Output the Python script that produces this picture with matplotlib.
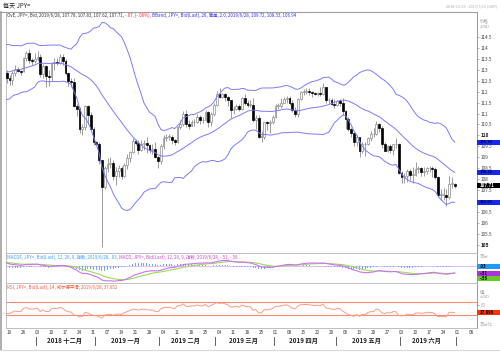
import numpy as np
import pandas as pd
import matplotlib
matplotlib.use("Agg")
import matplotlib.pyplot as plt
import matplotlib.transforms as mtransforms
from matplotlib.patches import Rectangle
from matplotlib.lines import Line2D

plt.rcParams['font.family'] = ['Noto Sans CJK SC', 'DejaVu Sans']

W, H = 500, 352

# closes before the visible window, only needed to warm up the indicators
pre_closes = [112.20, 111.80, 112.25, 112.65, 112.20, 112.55, 112.80, 112.45, 112.40, 112.40,
              111.90, 112.40, 113.05, 112.95, 112.70, 113.20, 113.20, 113.45, 113.50, 113.95,
              113.80, 113.85, 113.75, 113.60, 113.60]

# daily OHLC, 2018-11-16 .. 2019-06-28 (weekdays)
opens = [112.85, 112.60, 112.55, 112.85, 113.05, 112.95, 112.95, 113.55, 113.75, 113.45,
         113.40, 113.50, 113.60, 112.80, 113.15, 112.70, 112.65, 113.30, 113.35, 113.30,
         113.60, 113.40, 112.85, 112.50, 112.45, 111.35, 111.20, 110.30, 110.40, 111.35,
         110.95, 110.30, 109.70, 109.60, 108.90, 107.65, 108.50, 108.70, 108.75, 108.15,
         108.40, 108.50, 108.15, 108.65, 108.95, 109.25, 109.75, 109.65, 109.35, 109.60,
         109.65, 109.55, 109.35, 109.40, 109.00, 108.85, 109.50, 109.90, 109.95, 109.95,
         109.80, 109.70, 110.40, 110.50, 111.00, 110.50, 110.45, 110.60, 110.60, 110.85,
         110.70, 110.70, 111.05, 110.60, 111.00, 111.40, 111.90, 111.75, 111.90, 111.75,
         111.60, 111.15, 111.20, 111.35, 111.20, 111.70, 111.50, 111.40, 111.40, 110.70,
         110.80, 109.95, 109.95, 110.60, 110.55, 110.60, 110.85, 111.35, 111.35, 111.50,
         111.65, 111.70, 111.50, 111.15, 111.00, 111.65, 112.00, 112.00, 112.05, 112.00,
         111.95, 111.90, 111.95, 111.90, 112.20, 111.60, 111.60, 111.45, 111.40, 111.55,
         111.50, 111.10, 110.75, 110.30, 110.10, 109.70, 109.95, 109.30, 109.60, 109.60,
         109.90, 110.05, 110.05, 110.50, 110.35, 109.60, 109.30, 109.50, 109.35, 109.60,
         109.60, 108.30, 108.10, 108.15, 108.40, 108.20, 108.20, 108.45, 108.50, 108.35,
         108.40, 108.50, 108.50, 108.45, 108.10, 107.30, 107.30, 107.30, 107.20, 107.80,
         107.78]
highs = [113.00, 112.75, 112.95, 113.20, 113.10, 113.00, 113.60, 113.85, 113.95, 113.55,
         113.75, 113.85, 113.70, 113.25, 113.20, 113.00, 113.35, 113.55, 113.55, 113.70,
         113.70, 113.50, 112.90, 112.60, 112.60, 111.45, 111.30, 110.50, 111.40, 111.40,
         111.05, 110.40, 109.75, 109.70, 108.90, 108.60, 108.95, 109.00, 108.90, 108.55,
         108.65, 108.60, 108.75, 109.15, 109.30, 109.90, 109.85, 109.80, 109.80, 109.80,
         109.95, 109.60, 109.60, 109.70, 109.05, 109.60, 110.00, 110.05, 110.05, 110.00,
         109.85, 110.45, 110.70, 111.10, 111.15, 110.70, 110.70, 110.75, 111.00, 110.95,
         110.85, 111.15, 111.10, 111.05, 111.50, 112.05, 112.15, 111.95, 111.95, 111.80,
         111.60, 111.35, 111.45, 111.45, 111.75, 111.90, 111.60, 111.60, 111.70, 110.95,
         110.95, 110.20, 110.60, 110.65, 110.70, 110.95, 111.45, 111.50, 111.70, 111.75,
         111.80, 111.80, 111.60, 111.30, 111.70, 112.05, 112.10, 112.15, 112.15, 112.05,
         112.00, 112.00, 112.20, 112.40, 112.20, 111.70, 111.70, 111.65, 111.60, 111.65,
         111.70, 111.15, 110.85, 110.40, 110.15, 110.00, 109.95, 109.70, 109.70, 109.95,
         110.20, 110.35, 110.65, 110.55, 110.45, 109.70, 109.55, 109.60, 109.50, 109.90,
         109.65, 108.40, 108.30, 108.45, 108.45, 108.55, 108.80, 108.60, 108.55, 108.55,
         108.55, 108.60, 108.60, 108.55, 108.15, 107.55, 107.60, 107.55, 108.15, 108.10,
         107.83]
lows = [112.40, 112.30, 112.30, 112.70, 112.90, 112.75, 112.90, 113.40, 113.30, 113.20,
        113.30, 113.40, 112.65, 112.60, 112.20, 112.25, 112.50, 113.00, 113.20, 113.25,
        113.20, 112.75, 112.25, 112.20, 111.30, 110.90, 110.10, 110.00, 110.25, 110.50,
        110.20, 109.55, 109.50, 108.70, 104.90, 107.55, 108.35, 108.50, 107.95, 107.75,
        108.10, 108.00, 108.10, 108.45, 108.80, 109.20, 109.55, 109.15, 109.30, 109.35,
        109.20, 109.20, 109.15, 108.95, 108.50, 108.70, 109.40, 109.75, 109.80, 109.60,
        109.55, 109.65, 110.30, 110.45, 110.40, 110.30, 110.45, 110.45, 110.55, 110.50,
        110.55, 110.65, 110.40, 110.45, 110.90, 111.35, 111.70, 111.70, 111.55, 111.35,
        110.80, 111.00, 111.15, 111.10, 111.15, 111.40, 111.30, 111.30, 110.60, 110.30,
        109.90, 109.70, 109.85, 110.25, 110.10, 110.50, 110.80, 111.20, 111.25, 111.50,
        111.50, 111.40, 111.05, 110.85, 110.85, 111.60, 111.85, 111.90, 111.85, 111.75,
        111.85, 111.80, 111.80, 111.85, 111.50, 111.45, 111.40, 111.25, 111.35, 111.35,
        110.95, 110.30, 110.20, 109.95, 109.50, 109.50, 109.00, 109.20, 109.05, 109.55,
        109.75, 109.95, 110.00, 110.15, 109.45, 109.30, 109.25, 109.20, 109.10, 109.45,
        108.25, 107.85, 107.85, 107.90, 107.95, 107.85, 108.15, 108.30, 108.15, 108.15,
        108.25, 108.35, 108.10, 108.00, 107.20, 107.05, 107.05, 106.80, 107.10, 107.60,
        107.62]
closes = [112.60, 112.55, 112.85, 113.05, 112.95, 112.90, 113.55, 113.75, 113.45, 113.40,
          113.50, 113.60, 112.80, 113.15, 112.70, 112.65, 113.30, 113.35, 113.30, 113.60,
          113.40, 112.85, 112.50, 112.45, 111.35, 111.20, 110.30, 110.40, 111.35, 110.95,
          110.30, 109.70, 109.60, 108.90, 107.65, 108.50, 108.70, 108.75, 108.15, 108.40,
          108.50, 108.15, 108.65, 108.95, 109.25, 109.75, 109.65, 109.35, 109.60, 109.65,
          109.55, 109.35, 109.40, 109.00, 108.85, 109.50, 109.90, 109.95, 109.95, 109.80,
          109.70, 110.40, 110.50, 111.00, 110.50, 110.45, 110.60, 110.60, 110.85, 110.70,
          110.70, 111.05, 110.60, 111.00, 111.40, 111.90, 111.75, 111.90, 111.75, 111.60,
          111.15, 111.20, 111.35, 111.20, 111.70, 111.50, 111.40, 111.40, 110.70, 110.80,
          109.95, 109.95, 110.60, 110.55, 110.60, 110.85, 111.35, 111.35, 111.50, 111.65,
          111.70, 111.50, 111.15, 111.00, 111.65, 112.00, 112.00, 112.05, 112.00, 111.95,
          111.90, 111.95, 111.90, 112.20, 111.60, 111.60, 111.45, 111.40, 111.55, 111.50,
          111.10, 110.75, 110.30, 110.10, 109.70, 109.95, 109.30, 109.60, 109.60, 109.90,
          110.05, 110.05, 110.50, 110.35, 109.60, 109.30, 109.50, 109.35, 109.60, 109.60,
          108.30, 108.10, 108.15, 108.40, 108.20, 108.20, 108.45, 108.50, 108.35, 108.40,
          108.50, 108.50, 108.45, 108.10, 107.30, 107.30, 107.30, 107.20, 107.80, 107.80,
          107.71]

month_names = ['2018 十二月', '2019 一月', '2019 二月', '2019 三月', '2019 四月', '2019 五月', '2019 六月']

dates = pd.bdate_range('2018-10-12', '2019-06-28')
all_close = pd.Series(pre_closes + closes, index=dates)
npre = len(pre_closes)
xpos = np.arange(len(dates)) - (npre + 1)      # 0 = 2018-11-19
x = xpos[npre:]
o, h, l, c = map(np.array, (opens, highs, lows, closes))

# indicators
mid = all_close.rolling(26).mean()
sd = all_close.rolling(26).std(ddof=0)
upper, lower = mid + 2 * sd, mid - 2 * sd
macd = all_close.ewm(span=12, adjust=False).mean() - all_close.ewm(span=26, adjust=False).mean()
signal = macd.ewm(span=9, adjust=False).mean()
hist = macd - signal
d = all_close.diff()
gain = d.clip(lower=0).ewm(alpha=1 / 14, adjust=False).mean()
loss = (-d.clip(upper=0)).ewm(alpha=1 / 14, adjust=False).mean()
rsi = 100 - 100 / (1 + gain / loss)

fig = plt.figure(figsize=(W / 100, H / 100), dpi=100)


def px_axes(x0, y0, x1, y1):
    return fig.add_axes([x0 / W, 1 - y1 / H, (x1 - x0) / W, (y1 - y0) / H])


XL = (-1.43, 166.96)
ax = px_axes(5.5, 12, 477, 253)
axm = px_axes(5.5, 253, 477, 283)
axr = px_axes(5.5, 283, 477, 328)

for a in (ax, axm, axr):
    a.set_xlim(*XL)
    for s in a.spines.values():
        s.set_color('#b4b4b4')
        s.set_linewidth(0.6)
    a.spines['right'].set_color('#888888')
    a.yaxis.tick_right()
    a.tick_params(axis='y', length=1.5, width=0.4, color='#777777', pad=1,
                  labelsize=3.4, labelcolor='#444444')
    a.set_xticks([])

# candles
up = c >= o
body_lo = np.minimum(o, c)
body_h = np.maximum(np.abs(c - o), 0.025)
ax.vlines(x, l, h, color='#8c8c8c', lw=0.6, zorder=2)
ax.bar(x[up], body_h[up], bottom=body_lo[up], width=0.62, facecolor='white',
       edgecolor='#8c8c8c', linewidth=0.5, zorder=3)
ax.bar(x[~up], body_h[~up], bottom=body_lo[~up], width=0.62, facecolor='black',
       edgecolor='black', linewidth=0.5, zorder=3)

bb_col = '#7b7bff'
for band in (upper, mid, lower):
    ax.plot(xpos, band.values, color=bb_col, lw=0.7, zorder=4)

ax.set_ylim(104.64, 115.63)
yt = np.array([v for v in np.arange(105, 114.51, 0.5) if v != 107])   # 107 sits under a value box
ax.set_yticks(yt)
ax.set_yticklabels(['%g' % v for v in yt])
for lab, v in zip(ax.get_yticklabels(), yt):
    if v in (105, 110):
        lab.set_fontweight('bold')
        lab.set_color('#111111')


# value boxes on the right axis
def value_box(a, y, text, fc, tc, half, size=3.1):
    tr = mtransforms.blended_transform_factory(a.transAxes, a.transData)
    a.add_patch(Rectangle((1.0, y - half), 24 / 471.5, 2 * half, transform=tr,
                          facecolor=fc, edgecolor='none', clip_on=False, zorder=5))
    a.text(1.006, y, text, transform=tr, fontsize=size, color=tc, va='center', ha='left',
           fontweight='bold', clip_on=False, zorder=6)


value_box(ax, upper.iloc[-1], '%.2f' % upper.iloc[-1], '#1428f0', '#000033', 0.11, 2.9)
value_box(ax, mid.iloc[-1], '%.2f' % mid.iloc[-1], '#1428f0', '#000033', 0.11, 2.9)
value_box(ax, lower.iloc[-1], '%.2f' % lower.iloc[-1], '#1428f0', '#000033', 0.11, 2.9)
value_box(ax, c[-1], '%.2f' % c[-1], '#000000', '#ffffff', 0.115, 3.2)

# MACD panel
axm.bar(xpos, hist.values, width=0.3, color='#6fa8ff', zorder=2)
axm.axhline(0, color='#d9b3ff', lw=0.6, zorder=1)
axm.plot(xpos, signal.values, color='#99dd55', lw=0.8, zorder=3)
axm.plot(xpos, macd.values, color='#d070f0', lw=0.8, zorder=4)
axm.set_ylim(-1.33, 1.08)
axm.set_yticks([])
value_box(axm, 0.0, '.03', '#1e9bff', '#000000', 0.2)
value_box(axm, -0.55, '-.51', '#b030e0', '#000000', 0.2)
value_box(axm, -0.95, '-.56', '#66cc22', '#000000', 0.2)

# RSI panel
axr.plot(xpos, rsi.values, color='#ff9a80', lw=0.7, zorder=3)
for lev in (70, 30):
    axr.axhline(lev, color='#ff8a70', lw=0.8, zorder=2)
axr.set_ylim(-10, 128.5)
axr.set_yticks([60])
axr.set_yticklabels(['60'])
axr.tick_params(axis='y', labelcolor='#aaaaaa', labelsize=3.2)
value_box(axr, rsi.iloc[-1], '%.3f' % rsi.iloc[-1], '#ff3300', '#000000', 7)

# x axis: Mondays and months
mondays = [i for i, dt in zip(xpos, dates) if dt.weekday() == 0 and i >= 0]
mondays += [160, 165]
mon_labels = [dt.strftime('%d') for i, dt in zip(xpos, dates) if dt.weekday() == 0 and i >= 0]
mon_labels += ['01', '08']
axr.set_xticks(mondays)
axr.set_xticklabels(mon_labels)
axr.tick_params(axis='x', length=0, pad=1.8, labelsize=3.3, labelcolor='#333333')

starts = [i for i in range(1, len(dates)) if dates[i].month != dates[i - 1].month]
bounds = [xpos[i] - 0.5 for i in starts if xpos[i] > 0] + [159.5]
trm = mtransforms.blended_transform_factory(axr.transData, fig.transFigure)
for b in bounds:
    axr.add_line(Line2D([b, b], [1 - 337 / H, 1 - 344.5 / H], transform=trm, color='#444444',
                        lw=0.6, clip_on=False))
for name, b0, b1 in zip(month_names, bounds[:-1], bounds[1:]):
    axr.text((b0 + b1) / 2 - 0.5, 1 - 341 / H, name, transform=trm, ha='center', va='center',
             fontsize=4.5, fontweight='bold', color='#222222', clip_on=False)

# frame lines
fig.add_artist(Line2D([0, 477 / W], [1 - 12 / H, 1 - 12 / H], color='#a0a0a0', lw=0.8))
fig.add_artist(Line2D([1 / W, 1 / W], [1 - 12 / H, 1 - 350 / H], color='#a0a0a0', lw=1.2))
fig.add_artist(Line2D([0, 1], [1 - 350 / H, 1 - 350 / H], color='#d8d8d8', lw=0.8))

# texts
fig.text(3 / W, 1 - 6 / H, '每天 JPY=', fontsize=4.4, color='#222222', va='center', ha='left')
fig.text(498 / W, 1 - 6 / H, '2018/11/19 - 2019/7/16 (GMT)', fontsize=2.7, color='#aaaaaa',
         va='center', ha='right')
fig.text(480 / W, 1 - 20.5 / H, '价格', fontsize=3.2, color='#999999', va='center', ha='left')
fig.text(480 / W, 1 - 26 / H, '/USD', fontsize=3.0, color='#999999', va='center', ha='left')
fig.text(480 / W, 1 - 256 / H, '百分', fontsize=3.2, color='#bbbbbb', va='center', ha='left')
fig.text(480 / W, 1 - 292 / H, '值', fontsize=3.2, color='#999999', va='center', ha='left')
fig.text(480 / W, 1 - 297 / H, '/USD', fontsize=3.0, color='#999999', va='center', ha='left')
fig.text(480 / W, 1 - 324 / H, '百分比', fontsize=3.2, color='#bbbbbb', va='center', ha='left')

renderer = fig.canvas.get_renderer()


def chain_text(x0, y0, parts, size):
    cur = x0
    for s, col in parts:
        t = fig.text(cur / W, 1 - y0 / H, s, color=col, fontsize=size, va='center', ha='left')
        cur = t.get_window_extent(renderer).x1 + 1.0


chain_text(7, 15.5, [('OvE, JPY=, Bid, 2019/6/28, 107.78, 107.83, 107.62, 107.71,', '#333333'),
                     ('-.07, (-.06%),', '#ff2020'),
                     ('BBand, JPY=, Bid(Last), 26, 简单, 2.0, 2019/6/28, 109.72, 108.33, 106.94',
                      '#3030ff')], 3.2)
chain_text(7, 257.5, [('MACDF, JPY=, Bid(Last), 12, 26, 9, 指数, 2019/6/28, .03,', '#3c9cff'),
                      ('MACD, JPY=, Bid(Last), 12, 26, 9, 指数, 2019/6/28, -.51, -.56', '#cc44cc')],
           3.2)
chain_text(7, 287, [('RSI, JPY=, Bid(Last), 14, 威尔德平滑, 2019/6/28, 37.652', '#ff5533')], 3.2)

fig.savefig('out.png', dpi=100)
